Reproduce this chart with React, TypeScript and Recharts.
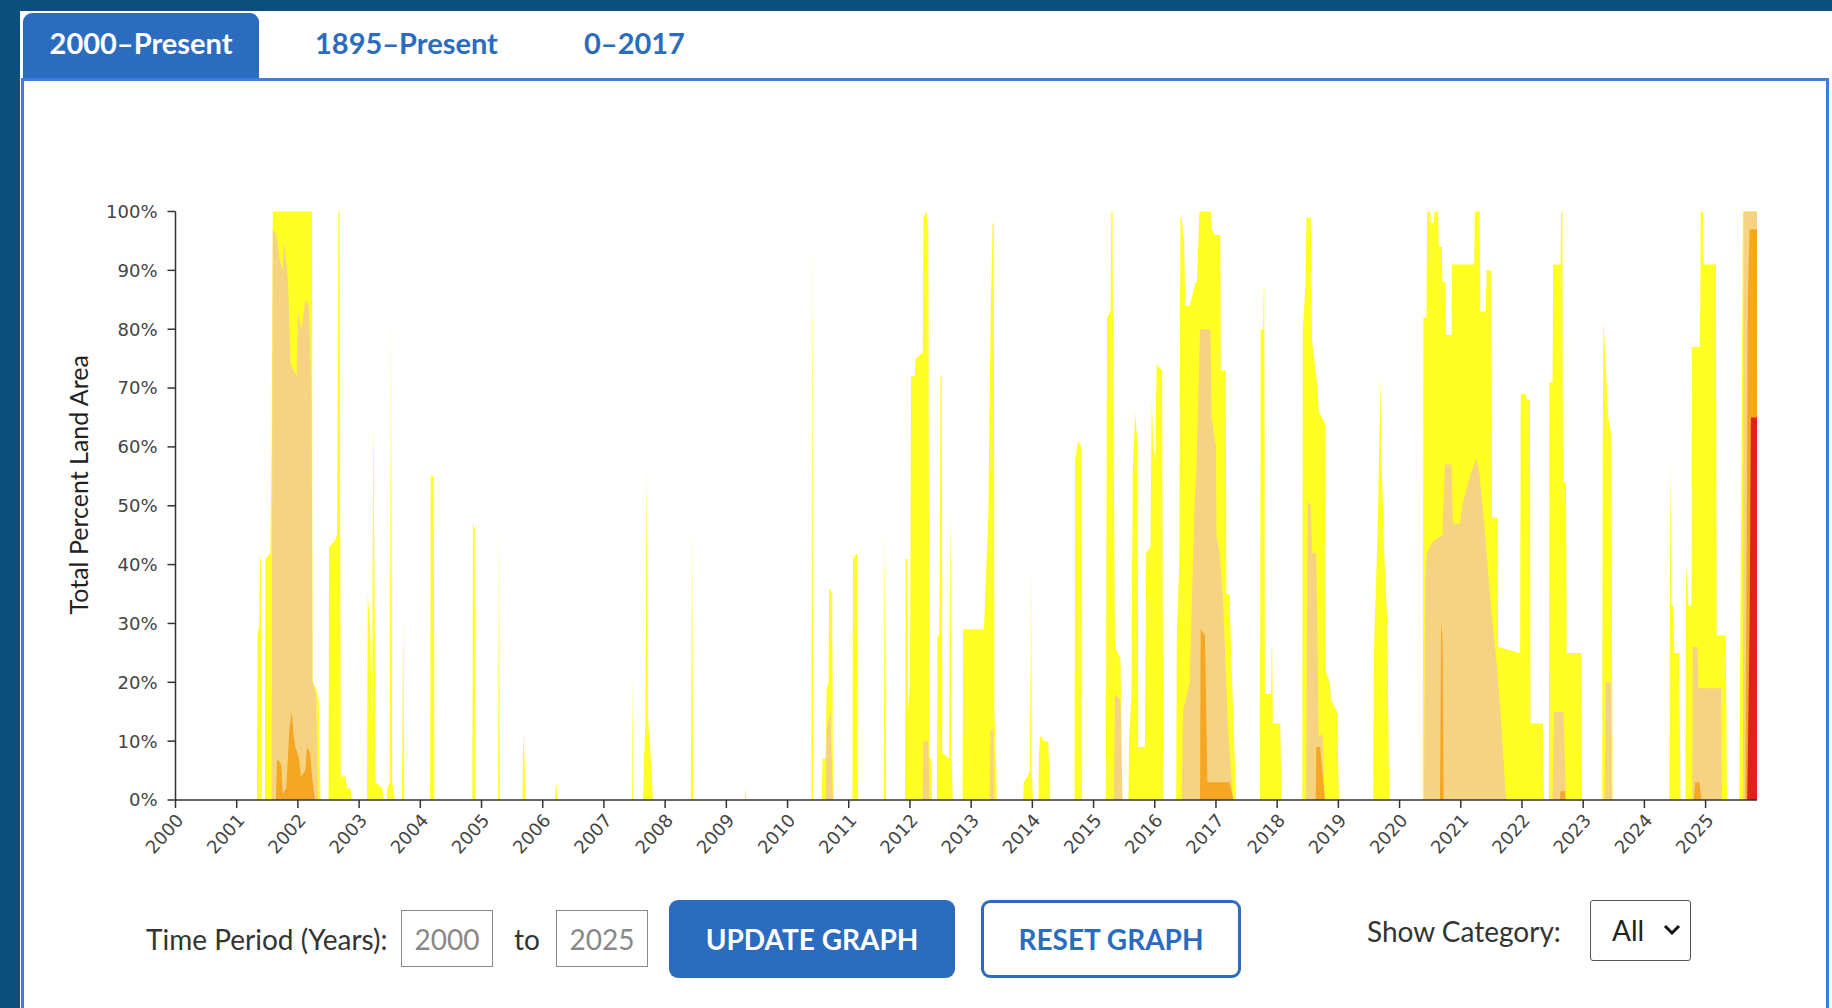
import React from 'react';
import { AreaChart, Area, XAxis, YAxis } from 'recharts';

// drought categories, cumulative percent of land area (D0 = any drought, D1+ ...)
const categories = ['D0', 'D1', 'D2', 'D3'];
const yearTicks = [
  2000, 2001, 2002, 2003, 2004, 2005, 2006, 2007, 2008, 2009, 2010, 2011, 2012,
  2013, 2014, 2015, 2016, 2017, 2018, 2019, 2020, 2021, 2022, 2023, 2024, 2025,
];
const percentTicks = [0, 10, 20, 30, 40, 50, 60, 70, 80, 90, 100];
const tabLabels = ['2000–Present', '1895–Present', '0–2017'];

// [decimal year, percent]
const d0Points: [number, number][] = [
  [2000, 0],
  [2001.33, 0], [2001.34, 28], [2001.37, 30], [2001.38, 42], [2001.4, 40], [2001.41, 0],
  [2001.46, 0], [2001.47, 41], [2001.55, 42], [2001.57, 60], [2001.59, 100], [2002.23, 100], [2002.24, 20], [2002.3, 19], [2002.34, 17], [2002.37, 0],
  [2002.5, 0], [2002.51, 43], [2002.6, 44], [2002.64, 45], [2002.66, 100], [2002.68, 100], [2002.7, 4], [2002.78, 4], [2002.8, 2], [2002.86, 2], [2002.88, 0],
  [2003.13, 0], [2003.14, 35], [2003.18, 30], [2003.21, 10], [2003.23, 64], [2003.25, 40], [2003.27, 3], [2003.38, 2], [2003.4, 0],
  [2003.45, 0], [2003.46, 2], [2003.5, 3], [2003.52, 82], [2003.54, 3], [2003.57, 1], [2003.58, 0],
  [2003.7, 0], [2003.72, 31], [2003.74, 0],
  [2004.16, 0], [2004.17, 55], [2004.22, 55], [2004.23, 0],
  [2004.85, 0], [2004.86, 47], [2004.89, 46], [2004.9, 0],
  [2005.27, 0], [2005.285, 46], [2005.3, 0],
  [2005.67, 0], [2005.68, 11], [2005.7, 8], [2005.72, 0],
  [2006.2, 0], [2006.22, 3], [2006.24, 0],
  [2007.46, 0], [2007.47, 22], [2007.48, 0],
  [2007.64, 0], [2007.65, 5], [2007.68, 14], [2007.7, 57], [2007.72, 14], [2007.78, 5], [2007.8, 0],
  [2008.42, 0], [2008.44, 46], [2008.46, 0],
  [2009.3, 0], [2009.31, 2], [2009.33, 0],
  [2010.39, 0], [2010.405, 97], [2010.42, 0],
  [2010.56, 0], [2010.57, 7], [2010.62, 7], [2010.64, 19], [2010.67, 20], [2010.68, 36], [2010.73, 35], [2010.74, 7], [2010.76, 0],
  [2011.06, 0], [2011.07, 41], [2011.14, 42], [2011.15, 0],
  [2011.57, 0], [2011.59, 46], [2011.61, 0],
  [2011.92, 0], [2011.93, 41], [2011.96, 41], [2011.97, 15], [2012.0, 20], [2012.02, 72], [2012.08, 72], [2012.09, 75], [2012.21, 76], [2012.22, 99], [2012.27, 100], [2012.3, 97], [2012.32, 7], [2012.35, 7], [2012.36, 0],
  [2012.44, 0], [2012.45, 28], [2012.48, 28], [2012.5, 72], [2012.52, 72], [2012.53, 8], [2012.64, 7], [2012.66, 50], [2012.68, 8], [2012.7, 0],
  [2012.86, 0], [2012.87, 29], [2013.21, 29], [2013.25, 40], [2013.28, 48], [2013.32, 83], [2013.35, 98], [2013.37, 98], [2013.38, 15], [2013.41, 5], [2013.42, 0],
  [2013.85, 0], [2013.86, 3], [2013.92, 4], [2013.96, 5], [2013.98, 39], [2013.99, 5], [2014.01, 0],
  [2014.1, 0], [2014.11, 8], [2014.13, 11], [2014.19, 10], [2014.26, 10], [2014.29, 0],
  [2014.69, 0], [2014.7, 58], [2014.75, 61], [2014.8, 60], [2014.81, 0],
  [2015.2, 0], [2015.22, 82], [2015.28, 83], [2015.29, 100], [2015.31, 100], [2015.32, 75], [2015.35, 26], [2015.44, 24], [2015.47, 0],
  [2015.57, 0], [2015.58, 10], [2015.62, 18], [2015.64, 56], [2015.68, 66], [2015.72, 60], [2015.73, 9], [2015.84, 9], [2015.86, 42], [2015.93, 43], [2015.95, 68], [2015.98, 60], [2016.01, 58], [2016.03, 74], [2016.12, 73], [2016.14, 0],
  [2016.35, 0], [2016.36, 28], [2016.4, 40], [2016.42, 99], [2016.44, 99], [2016.48, 95], [2016.5, 84], [2016.57, 84], [2016.67, 88], [2016.69, 88], [2016.73, 100], [2016.92, 100], [2016.93, 97], [2016.98, 96], [2017.07, 96], [2017.08, 73], [2017.16, 73], [2017.17, 35], [2017.22, 35], [2017.28, 15], [2017.33, 0],
  [2017.72, 0], [2017.73, 80], [2017.77, 80], [2017.78, 87], [2017.79, 87], [2017.8, 18], [2017.9, 18], [2017.91, 26], [2017.92, 26], [2017.93, 13], [2018.05, 13], [2018.07, 0],
  [2018.41, 0], [2018.42, 80], [2018.46, 87], [2018.48, 99], [2018.55, 99], [2018.57, 78], [2018.66, 70], [2018.68, 66], [2018.78, 64], [2018.79, 22], [2018.86, 20], [2018.88, 17], [2018.98, 15], [2019.01, 0],
  [2019.57, 0], [2019.58, 25], [2019.64, 45], [2019.69, 72], [2019.7, 60], [2019.75, 42], [2019.8, 30], [2019.83, 0],
  [2020.38, 0], [2020.39, 82], [2020.44, 82], [2020.45, 100], [2020.5, 100], [2020.51, 98], [2020.56, 98], [2020.57, 100], [2020.63, 100], [2020.64, 94], [2020.69, 94], [2020.7, 88], [2020.75, 88], [2020.76, 79], [2020.85, 79], [2020.86, 91], [2021.22, 91], [2021.23, 100], [2021.31, 100], [2021.32, 83], [2021.41, 83], [2021.42, 90], [2021.5, 90], [2021.51, 48], [2021.6, 48], [2021.61, 26], [2021.97, 25], [2021.98, 69], [2022.06, 69], [2022.08, 68], [2022.13, 68], [2022.14, 13], [2022.34, 13], [2022.36, 0],
  [2022.44, 0], [2022.45, 71], [2022.5, 71], [2022.51, 91], [2022.63, 91], [2022.64, 100], [2022.66, 100], [2022.67, 54], [2022.72, 54], [2022.73, 25], [2022.97, 25], [2022.98, 0],
  [2023.31, 0], [2023.32, 60], [2023.33, 81], [2023.36, 76], [2023.41, 65], [2023.46, 62], [2023.48, 0],
  [2024.41, 0], [2024.42, 58], [2024.44, 33], [2024.47, 33], [2024.49, 25], [2024.57, 25], [2024.59, 0],
  [2024.67, 0], [2024.68, 40], [2024.72, 33], [2024.77, 33], [2024.78, 77], [2024.91, 77], [2024.92, 100], [2024.96, 100], [2024.97, 91], [2025.17, 91], [2025.18, 28], [2025.33, 28], [2025.35, 0],
  [2025.55, 0], [2025.57, 30], [2025.61, 100], [2025.84, 100],
];

const d1Points: [number, number][] = [
  [2000, 0],
  [2001.57, 0], [2001.59, 97], [2001.65, 96], [2001.7, 92], [2001.75, 90], [2001.78, 95], [2001.84, 88], [2001.88, 74], [2001.98, 72], [2002.0, 83], [2002.06, 80], [2002.12, 85], [2002.18, 84], [2002.22, 70], [2002.24, 20], [2002.3, 18], [2002.33, 0],
  [2010.62, 0], [2010.64, 12], [2010.7, 15], [2010.72, 8], [2010.74, 0],
  [2012.21, 0], [2012.22, 10], [2012.3, 10], [2012.32, 0],
  [2013.3, 0], [2013.32, 12], [2013.36, 12], [2013.38, 0],
  [2015.33, 0], [2015.35, 18], [2015.44, 17], [2015.47, 0],
  [2016.44, 0], [2016.46, 15], [2016.57, 20], [2016.65, 50], [2016.68, 56], [2016.74, 80], [2016.91, 80], [2016.93, 65], [2017.0, 60], [2017.01, 45], [2017.06, 42], [2017.11, 35], [2017.2, 12], [2017.28, 0],
  [2018.47, 0], [2018.5, 51], [2018.55, 50], [2018.57, 42], [2018.64, 42], [2018.68, 11], [2018.74, 11], [2018.78, 0],
  [2020.4, 0], [2020.42, 38], [2020.45, 42], [2020.55, 44], [2020.7, 45], [2020.74, 57], [2020.85, 57], [2020.87, 47], [2020.99, 47], [2021.02, 50], [2021.15, 55], [2021.25, 58], [2021.3, 56], [2021.4, 45], [2021.5, 32], [2021.58, 24], [2021.65, 15], [2021.74, 0],
  [2022.5, 0], [2022.52, 15], [2022.68, 15], [2022.72, 0],
  [2023.35, 0], [2023.37, 20], [2023.45, 20], [2023.47, 0],
  [2024.78, 0], [2024.79, 26], [2024.87, 26], [2024.88, 19], [2025.25, 19], [2025.27, 0],
  [2025.61, 0], [2025.62, 100], [2025.84, 100],
];

const d2Points: [number, number][] = [
  [2000, 0],
  [2001.64, 0], [2001.66, 7], [2001.73, 6], [2001.75, 1], [2001.81, 2], [2001.86, 12], [2001.9, 15], [2001.93, 11], [2001.96, 9], [2002.02, 7], [2002.05, 4], [2002.12, 5], [2002.15, 9], [2002.2, 8], [2002.24, 3], [2002.28, 0],
  [2016.74, 0], [2016.75, 29], [2016.82, 28], [2016.86, 3], [2017.22, 3], [2017.29, 0],
  [2018.63, 0], [2018.64, 9], [2018.7, 9], [2018.78, 0],
  [2020.66, 0], [2020.68, 30], [2020.7, 28], [2020.72, 0],
  [2022.62, 0], [2022.63, 1.5], [2022.7, 1.5], [2022.71, 0],
  [2024.81, 0], [2024.83, 3], [2024.9, 3], [2024.93, 0],
  [2025.65, 0], [2025.69, 85], [2025.72, 97], [2025.84, 97],
];

const d3Points: [number, number][] = [
  [2000, 0], [2025.68, 0], [2025.72, 30], [2025.74, 65], [2025.84, 65],
];

const colors: Record<string, string> = {
  D0: '#FFFF24',
  D1: '#F6D283',
  D2: '#F5A623',
  D3: '#E3211B',
};

const BLUE = '#2b6cbf';

// merge the per-category breakpoints into one table keyed by time
const buildTable = () => {
  const rows = new Map<number, any>();
  const add = (key: string, pts: [number, number][]) => {
    pts.forEach(([t, v]) => {
      const row = rows.get(t) || { t };
      row[key] = v;
      rows.set(t, row);
    });
  };
  add('D0', d0Points);
  add('D1', d1Points);
  add('D2', d2Points);
  add('D3', d3Points);
  return Array.from(rows.values()).sort((a, b) => a.t - b.t);
};

const data = buildTable();

const YearTick = (props: any) => {
  const { x, y, payload } = props;
  const ax = x + 9;
  const ay = y + 11;
  return (
    <text
      x={ax}
      y={ay}
      textAnchor="end"
      transform={`rotate(-48 ${ax} ${ay})`}
      fontSize={18}
      fill="#444"
      fontFamily="DejaVu Sans"
    >
      {payload.value}
    </text>
  );
};

const AxisTitle = (props: any) => {
  const vb = props.viewBox;
  const cx = vb.x + 5;
  const cy = vb.y + vb.height / 2 - 21;
  return (
    <text
      x={cx}
      y={cy}
      textAnchor="middle"
      dominantBaseline="central"
      transform={`rotate(-90 ${cx} ${cy})`}
      fontSize={25}
      fill="#222"
      fontFamily="Lato"
    >
      Total Percent Land Area
    </text>
  );
};

const abs = (left: number, top: number, extra: React.CSSProperties = {}): React.CSSProperties => ({
  position: 'absolute',
  left,
  top,
  ...extra,
});

const Box = ({ left, width, text }: { left: number; width: number; text: string }) => (
  <div
    style={abs(left, 910, {
      width,
      height: 57,
      boxSizing: 'border-box',
      border: '1px solid #8a8a8a',
      color: '#888',
      fontSize: 28,
      display: 'flex',
      alignItems: 'center',
      justifyContent: 'center',
    })}
  >
    {text}
  </div>
);

export default function App() {
  return (
    <div
      style={{
        position: 'absolute',
        left: 0,
        top: 0,
        width: 1832,
        height: 1008,
        overflow: 'hidden',
        background: '#0b4f7d',
        fontFamily: 'Lato, sans-serif',
      }}
    >
      <div style={abs(20, 11, { right: 0, bottom: 0, background: '#fff' })} />

      {/* tabs */}
      <div
        style={abs(23, 13, {
          width: 236,
          height: 67,
          background: BLUE,
          borderRadius: '9px 9px 0 0',
        })}
      />
      <div style={abs(23, 13, { width: 236, height: 60, lineHeight: '60px', textAlign: 'center', color: '#fff', fontWeight: 700, fontSize: 29 })}>
        {tabLabels[0]}
      </div>
      <div style={abs(315, 13, { height: 60, lineHeight: '60px', color: BLUE, fontWeight: 700, fontSize: 29 })}>
        {tabLabels[1]}
      </div>
      <div style={abs(584, 13, { height: 60, lineHeight: '60px', color: BLUE, fontWeight: 700, fontSize: 29 })}>
        {tabLabels[2]}
      </div>

      {/* panel */}
      <div
        style={abs(21, 78, {
          width: 1808,
          height: 1000,
          boxSizing: 'border-box',
          border: '3px solid #3d7fd8',
        })}
      />

      <div style={abs(0, 0)}>
        <AreaChart
          width={1800}
          height={900}
          data={data}
          margin={{ top: 211.5, right: 43, left: 73, bottom: 20 }}
        >
          <XAxis
            dataKey="t"
            type="number"
            scale="linear"
            domain={[2000, 2025.84]}
            allowDataOverflow
            ticks={yearTicks}
            interval={0}
            height={80}
            tickSize={8}
            tick={<YearTick />}
            axisLine={{ stroke: '#333', strokeWidth: 1.5 }}
            tickLine={{ stroke: '#333', strokeWidth: 1.5 }}
          />
          <YAxis
            type="number"
            domain={[0, 100]}
            ticks={percentTicks}
            interval={0}
            width={102.5}
            tickSize={8}
            tickMargin={10}
            tickFormatter={(v: number) => `${v}%`}
            tick={{ fontSize: 18, fill: '#444', fontFamily: 'DejaVu Sans' }}
            axisLine={{ stroke: '#333', strokeWidth: 1.5 }}
            tickLine={{ stroke: '#333', strokeWidth: 1.5 }}
            label={{ content: (p: any) => <AxisTitle {...p} /> }}
          />
          {categories.map((c) => (
            <Area
              key={c}
              type="linear"
              dataKey={c}
              stroke="none"
              fill={colors[c]}
              fillOpacity={1}
              connectNulls
              dot={false}
              activeDot={false}
              baseValue={0}
              isAnimationActive={false}
            />
          ))}
        </AreaChart>
      </div>

      {/* controls */}
      <div style={abs(146, 920, { fontSize: 28, color: '#333', lineHeight: '38px' })}>Time Period (Years):</div>
      <Box left={401} width={92} text="2000" />
      <div style={abs(514, 920, { fontSize: 28, color: '#333', lineHeight: '38px' })}>to</div>
      <Box left={556} width={92} text="2025" />
      <div
        style={abs(669, 900, {
          width: 286,
          height: 78,
          background: BLUE,
          borderRadius: 9,
          color: '#fff',
          fontWeight: 700,
          fontSize: 28,
          display: 'flex',
          alignItems: 'center',
          justifyContent: 'center',
        })}
      >
        UPDATE GRAPH
      </div>
      <div
        style={abs(981, 900, {
          width: 260,
          height: 78,
          boxSizing: 'border-box',
          border: `3px solid ${BLUE}`,
          borderRadius: 9,
          background: '#fff',
          color: BLUE,
          fontWeight: 700,
          fontSize: 28,
          display: 'flex',
          alignItems: 'center',
          justifyContent: 'center',
        })}
      >
        RESET GRAPH
      </div>
      <div style={abs(1367, 912, { fontSize: 28, color: '#333', lineHeight: '38px' })}>Show Category:</div>
      <div
        style={abs(1590, 900, {
          width: 101,
          height: 61,
          boxSizing: 'border-box',
          border: '1px solid #555',
          borderRadius: 3,
          fontSize: 28,
          color: '#222',
        })}
      >
        <span style={abs(21, 10, { lineHeight: '38px' })}>All</span>
        <svg style={abs(72, 22)} width={18} height={14}>
          <polyline points="2,3 9,10 16,3" fill="none" stroke="#111" strokeWidth={3} />
        </svg>
      </div>
    </div>
  );
}
